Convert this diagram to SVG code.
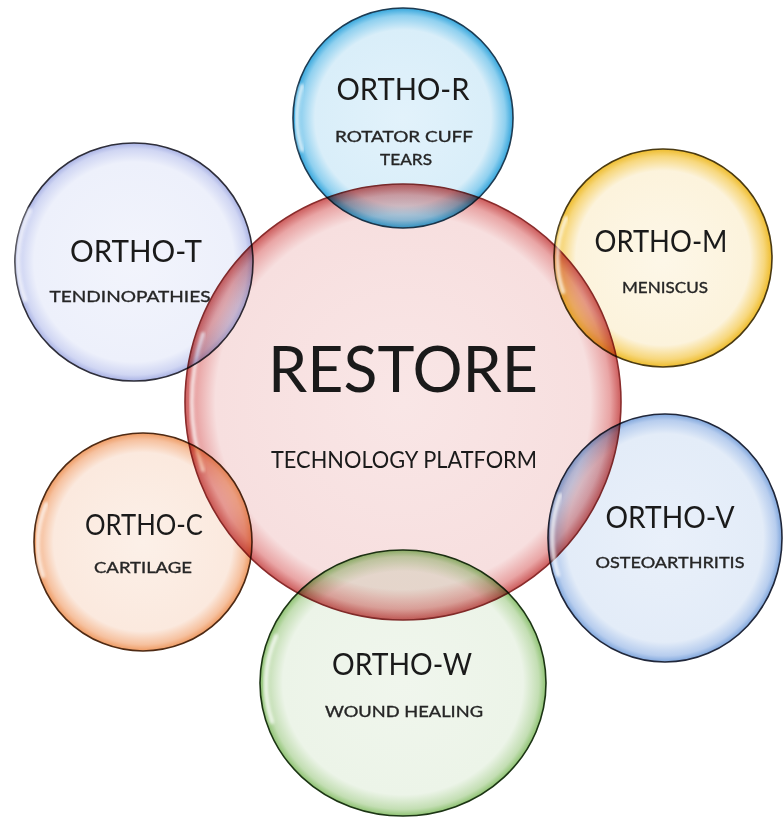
<svg xmlns="http://www.w3.org/2000/svg" width="783" height="818" viewBox="0 0 783 818">
<defs>
<radialGradient id="gCenter"><stop offset="0" stop-color="#f9e6e6"/><stop offset="0.86" stop-color="#f7dfdf"/><stop offset="0.95" stop-color="#e9a5a5"/><stop offset="1" stop-color="#cc5c5c"/></radialGradient>
<radialGradient id="gR"><stop offset="0" stop-color="#e2f2fb"/><stop offset="0.8" stop-color="#d9eef9"/><stop offset="0.93" stop-color="#8fd0ef"/><stop offset="1" stop-color="#35a6dc"/></radialGradient>
<radialGradient id="gT"><stop offset="0" stop-color="#f2f4fc"/><stop offset="0.84" stop-color="#edf0fb"/><stop offset="0.95" stop-color="#d0d6f3"/><stop offset="1" stop-color="#a9b2e4"/></radialGradient>
<radialGradient id="gM"><stop offset="0" stop-color="#fdf7e8"/><stop offset="0.8" stop-color="#fcf3dc"/><stop offset="0.93" stop-color="#f7d77c"/><stop offset="1" stop-color="#eebc2c"/></radialGradient>
<radialGradient id="gV"><stop offset="0" stop-color="#e9f0fa"/><stop offset="0.84" stop-color="#e3ecf8"/><stop offset="0.95" stop-color="#b7cdee"/><stop offset="1" stop-color="#7fa6dc"/></radialGradient>
<radialGradient id="gC"><stop offset="0" stop-color="#fcf0e8"/><stop offset="0.82" stop-color="#fbe9de"/><stop offset="0.94" stop-color="#f6c19f"/><stop offset="1" stop-color="#ee9a62"/></radialGradient>
<radialGradient id="gW"><stop offset="0" stop-color="#f0f6ed"/><stop offset="0.84" stop-color="#ecf4e8"/><stop offset="0.95" stop-color="#c3deb3"/><stop offset="1" stop-color="#8ec272"/></radialGradient>
<filter id="soft" x="-20%" y="-20%" width="140%" height="140%"><feGaussianBlur stdDeviation="1.5"/></filter>
</defs>
<style>
.bub{mix-blend-mode:multiply;stroke-width:1.6}
.hl{fill:none;stroke:#ffffff;stroke-width:4;stroke-linecap:round;opacity:0.75;filter:url(#soft)}
.title{font-family:Lato,"Open Sans","Liberation Sans",sans-serif;fill:#1a1a1a;text-anchor:middle}
.sub{font-family:Lato,"Open Sans","Liberation Sans",sans-serif;fill:#262626;stroke:#262626;stroke-width:0.35;text-anchor:middle;font-size:16px}
.big{font-size:30px}
</style>
<rect width="783" height="818" fill="#ffffff"/>
<g id="connectors"/>
<g id="node-restore">
<circle class="bub" cx="403" cy="402" r="218" fill="url(#gCenter)" stroke="#8a2c2c"/>
<path class="hl" d="M 203 470 A 212 212 0 0 1 203 334"/>
<text class="title" x="403" y="392" font-size="64" textLength="270" lengthAdjust="spacingAndGlyphs">RESTORE</text>
<text class="title" x="404" y="468" font-size="23" textLength="266" lengthAdjust="spacingAndGlyphs">TECHNOLOGY PLATFORM</text>
</g>
<g id="node-ortho-r">
<circle class="bub" cx="403" cy="118" r="110" fill="url(#gR)" stroke="#1d3b52"/>
<path class="hl" d="M 302 150 A 104 104 0 0 1 302 86"/>
<text class="title big" x="403" y="100" textLength="133" lengthAdjust="spacingAndGlyphs">ORTHO-R</text>
<text class="sub" x="404" y="142" textLength="138" lengthAdjust="spacingAndGlyphs">ROTATOR CUFF</text>
<text class="sub" x="406" y="165" textLength="52" lengthAdjust="spacingAndGlyphs">TEARS</text>
</g>
<g id="node-ortho-t">
<circle class="bub" cx="134" cy="262" r="119" fill="url(#gT)" stroke="#2e2e3a"/>
<path class="hl" d="M 25 300 A 113 113 0 0 1 30 210"/>
<text class="title big" x="136" y="262" textLength="132" lengthAdjust="spacingAndGlyphs">ORTHO-T</text>
<text class="sub" x="130" y="302" textLength="161" lengthAdjust="spacingAndGlyphs">TENDINOPATHIES</text>
</g>
<g id="node-ortho-m">
<circle class="bub" cx="663" cy="258" r="109" fill="url(#gM)" stroke="#4a3a12"/>
<path class="hl" d="M 563 292 A 103 103 0 0 1 566 218"/>
<text class="title big" x="661" y="252" textLength="133" lengthAdjust="spacingAndGlyphs">ORTHO-M</text>
<text class="sub" x="665" y="293" textLength="86" lengthAdjust="spacingAndGlyphs">MENISCUS</text>
</g>
<g id="node-ortho-v">
<ellipse class="bub" cx="665" cy="538" rx="117" ry="124" fill="url(#gV)" stroke="#20273a"/>
<path class="hl" d="M 558 575 A 110 117 0 0 1 560 495"/>
<text class="title big" x="670" y="528" textLength="129" lengthAdjust="spacingAndGlyphs">ORTHO-V</text>
<text class="sub" x="670" y="568" textLength="149" lengthAdjust="spacingAndGlyphs">OSTEOARTHRITIS</text>
</g>
<g id="node-ortho-c">
<circle class="bub" cx="143" cy="542" r="109" fill="url(#gC)" stroke="#4e2a14"/>
<path class="hl" d="M 43 576 A 103 103 0 0 1 46 504"/>
<text class="title" x="144" y="535" font-size="28" textLength="118" lengthAdjust="spacingAndGlyphs">ORTHO-C</text>
<text class="sub" x="143" y="573" textLength="98" lengthAdjust="spacingAndGlyphs">CARTILAGE</text>
</g>
<g id="node-ortho-w">
<ellipse class="bub" cx="403" cy="683" rx="143" ry="133" fill="url(#gW)" stroke="#1c3514"/>
<path class="hl" d="M 272 722 A 136 126 0 0 1 276 636"/>
<text class="title big" x="402" y="675" textLength="140" lengthAdjust="spacingAndGlyphs">ORTHO-W</text>
<text class="sub" x="404" y="717" textLength="158" lengthAdjust="spacingAndGlyphs">WOUND HEALING</text>
</g>
</svg>
